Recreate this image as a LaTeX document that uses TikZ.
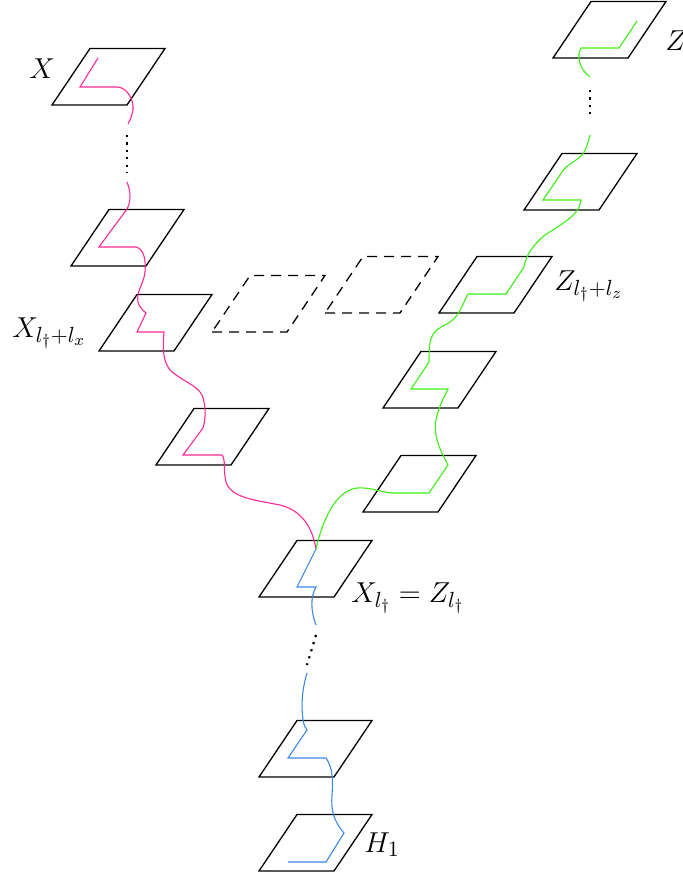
\documentclass[tikz,border=0pt]{standalone}
\definecolor{xpink}{RGB}{255,40,150}
\definecolor{zgreen}{RGB}{60,240,20}
\definecolor{hblue}{RGB}{60,135,230}
\tikzset{
  plane/.pic={\draw (0,0) -- (75,0) -- (113,-56.5) -- (38,-56.5) -- cycle;},
  panelline/.style={line width=0.65pt, line join=miter},
  dashedpanel/.style={dash pattern=on 5pt off 3.5pt},
  strand/.style={line width=0.55pt},
  dotline/.style={line width=1.1pt, dash pattern=on 1.1pt off 2.6pt},
  lab/.style={anchor=base west, inner sep=0pt, font=\fontsize{15.3}{18}\selectfont},
}
\begin{document}
\begin{tikzpicture}[x=0.5pt,y=-0.5pt]
\useasboundingbox (0,0) rectangle (683,878);
% panels, X side
\pic[panelline] (px1) at (52,105) {plane};
\pic[panelline] (px2) at (71,266) {plane};
\pic[panelline] (px3) at (99,351) {plane};
\pic[panelline] (px4) at (156,465) {plane};
% shared and bottom
\pic[panelline] (pm) at (259,597) {plane};
\pic[panelline] (pb1) at (259,777) {plane};
\pic[panelline] (pb2) at (259,871) {plane};
% Z side
\pic[panelline] (pz1) at (553,58) {plane};
\pic[panelline] (pz2) at (524,210) {plane};
\pic[panelline] (pz3) at (439,313) {plane};
\pic[panelline] (pz4) at (383,408) {plane};
\pic[panelline] (pz5) at (363,512) {plane};
% dashed
\pic[panelline, dashedpanel] (pd1) at (212,332) {plane};
\pic[panelline, dashedpanel] (pd2) at (325,313) {plane};

\coordinate (J) at (316,549);
% magenta strand
\draw[strand, xpink] (98,58) -- (80,87) -- (117,87)
  .. controls (127,87) and (134,100) .. (133,110)
  .. controls (132,116) and (130,120) .. (128,124);
\draw[dotline] (127,135) -- (127,173);
\draw[strand, xpink] (127,182)
  .. controls (131,192) and (131,202) .. (127,209) -- (99,247) -- (136,247)
  .. controls (144,249) and (146,260) .. (145,272)
  .. controls (144,283) and (136,292) .. (138,302)
  .. controls (139,307) and (143,310) .. (146,313) -- (137,332) -- (164,332)
  .. controls (163,345) and (162,360) .. (170,370)
  .. controls (180,380) and (197,385) .. (202,395)
  .. controls (206,405) and (206,418) .. (203,428) -- (183,455) -- (222,455)
  .. controls (226,460) and (223,470) .. (226,482)
  .. controls (231,498) and (255,500) .. (280,505)
  .. controls (300,510) and (312,525) .. (J);
% green strand
\draw[strand, zgreen] (637,21) -- (619,48) -- (581,48)
  .. controls (577,55) and (578,68) .. (590,77);
\draw[dotline] (590,90) -- (590,117);
\draw[strand, zgreen] (590,135)
  .. controls (588,143) and (586,150) .. (582,155)
  .. controls (575,162) and (566,165) .. (562,172) -- (543,200) -- (581,200)
  .. controls (580,215) and (560,225) .. (545,235)
  .. controls (533,245) and (526,255) .. (524,267) -- (506,294) -- (468,294)
  .. controls (462,305) and (460,315) .. (450,322)
  .. controls (440,328) and (432,330) .. (430,343)
  .. controls (429,350) and (429,356) .. (429,362) -- (411,389) -- (448,389)
  .. controls (440,405) and (433,420) .. (436,435)
  .. controls (438,447) and (444,457) .. (448,465) -- (429,493) -- (392,493)
  .. controls (380,492) and (370,487) .. (357,488)
  .. controls (340,490) and (325,510) .. (J);
% blue strand
\draw[strand, hblue] (J) -- (297,587) -- (316,587)
  .. controls (310,597) and (311,612) .. (316,625);
\draw[dotline] (316,635) -- (307,665);
\draw[strand, hblue] (307,673)
  .. controls (302,690) and (301,705) .. (303,720)
  .. controls (304,725) and (305,728) .. (307,730) -- (288,758) -- (326,758)
  .. controls (333,768) and (333,780) .. (332,795)
  .. controls (331,810) and (333,820) .. (344,833) -- (326,862) -- (288,862);
% labels
\node[lab] (lX) at (29,78) {$X$};
\node[lab] (lZ) at (665,50) {$Z$};
\node[lab] (lXl) at (12,337) {$X_{l_\dagger+l_x}$};
\node[lab] (lZl) at (554,290) {$Z_{l_\dagger+l_z}$};
\node[lab] (lXZ) at (351,602) {$X_{l_\dagger} = Z_{l_\dagger}$};
\node[lab] (lH) at (364,852) {$H_1$};
\end{tikzpicture}
\end{document}
